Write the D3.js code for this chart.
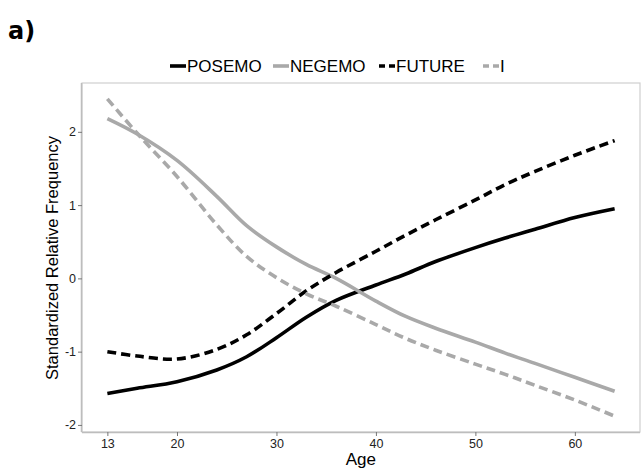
<!DOCTYPE html>
<html>
<head>
<meta charset="utf-8">
<script src="https://cdn.jsdelivr.net/npm/d3@7"></script>
<style>
  body { margin: 0; background: #fff; }
  svg text { font-family: "Liberation Sans", Arial, sans-serif; }
</style>
</head>
<body>
<div id="chart"></div>
<script>
var ages = [13, 16, 20, 24, 27, 30, 33, 36, 40, 43, 46, 50, 53, 56, 60, 64];

var posemo = [-1.57, -1.50, -1.41, -1.25, -1.07, -0.81, -0.53, -0.30, -0.09, 0.06, 0.23, 0.42, 0.55, 0.67, 0.83, 0.95];
var negemo = [2.18, 1.97, 1.61, 1.12, 0.72, 0.43, 0.19, 0.00, -0.31, -0.52, -0.68, -0.87, -1.02, -1.16, -1.35, -1.54];
var future = [-1.00, -1.06, -1.10, -0.97, -0.77, -0.48, -0.17, 0.08, 0.37, 0.59, 0.80, 1.07, 1.28, 1.46, 1.68, 1.88];
var iWord  = [2.45, 1.98, 1.39, 0.73, 0.30, 0.01, -0.21, -0.38, -0.63, -0.82, -0.98, -1.17, -1.31, -1.46, -1.66, -1.88];

var seriesNames = ["POSEMO", "NEGEMO", "FUTURE", "I"];
var xTicks = [13, 20, 30, 40, 50, 60];
var yTicks = [-2, -1, 0, 1, 2];

var series = [
    {name: "POSEMO", values: posemo, color: "#000", dash: null},
    {name: "NEGEMO", values: negemo, color: "#a9a9a9", dash: null},
    {name: "FUTURE", values: future, color: "#000", dash: "9,5"},
    {name: "I",      values: iWord,  color: "#a9a9a9", dash: "9,5"}
];

var W = 644, H = 470;
var margin = {top: 83, right: 4, bottom: 38, left: 82};
var width = W - margin.left - margin.right;
var height = H - margin.top - margin.bottom;

var svg = d3.select("#chart").append("svg")
    .attr("width", W)
    .attr("height", H);

// panel label
svg.append("text")
    .attr("x", 8)
    .attr("y", 39)
    .style("font-family", "'DejaVu Sans', sans-serif")
    .style("font-weight", "bold")
    .style("font-size", "24px")
    .text("a)");

var g = svg.append("g")
    .attr("transform", "translate(" + margin.left + "," + margin.top + ")");

// ggplot-style 5% expansion
var xMin = d3.min(ages), xMax = d3.max(ages);
var xPad = (xMax - xMin) * 0.05;
var x = d3.scaleLinear()
    .domain([xMin - xPad, xMax + xPad])
    .range([0, width]);

var allVals = [].concat(posemo, negemo, future, iWord);
var yMin = d3.min(allVals), yMax = d3.max(allVals);
var yPad = (yMax - yMin) * 0.05;
var y = d3.scaleLinear()
    .domain([yMin - yPad, yMax + yPad])
    .range([height, 0]);

// panel border
g.append("rect")
    .attr("width", width)
    .attr("height", height)
    .attr("fill", "none")
    .attr("stroke", "#cfcfcf")
    .attr("stroke-width", 1.2);

// axes
var xAxis = d3.axisBottom(x).tickValues(xTicks).tickSize(4).tickPadding(3);
var yAxis = d3.axisLeft(y).tickValues(yTicks).tickSize(4).tickPadding(2)
    .tickFormat(function (d) { return String(d); }); // plain hyphen minus

var gx = g.append("g")
    .attr("transform", "translate(0," + height + ")")
    .call(xAxis);
var gy = g.append("g").call(yAxis);

[gx, gy].forEach(function (ax) {
    ax.select(".domain").attr("stroke", "#bdbdbd").attr("stroke-width", 1.5);
    ax.selectAll(".tick line").attr("stroke", "#777");
    ax.selectAll(".tick text")
        .attr("fill", "#222")
        .style("font-size", "12.5px")
        .style("font-family", "'Liberation Sans', Arial, sans-serif");
});
gx.select(".domain").attr("d", "M0,0.5H" + width);
gy.select(".domain").attr("d", "M-0.5,0V" + height);

// axis titles
g.append("text")
    .attr("x", x(40) - 15)
    .attr("y", height + 33)
    .attr("text-anchor", "middle")
    .style("font-size", "17px")
    .text("Age");

g.append("text")
    .attr("transform", "rotate(-90)")
    .attr("x", -(258 - margin.top))
    .attr("y", -24)
    .attr("text-anchor", "middle")
    .style("font-size", "16.5px")
    .text("Standardized Relative Frequency");

// lines
var line = d3.line()
    .x(function (d) { return x(d[0]); })
    .y(function (d) { return y(d[1]); })
    .curve(d3.curveCatmullRom.alpha(0.5));

g.selectAll(".series")
    .data(series)
    .enter().append("path")
    .attr("class", "series")
    .attr("fill", "none")
    .attr("stroke", function (d) { return d.color; })
    .attr("stroke-width", 3.6)
    .attr("stroke-dasharray", function (d) { return d.dash; })
    .attr("d", function (d) { return line(ages.map(function (a, i) { return [a, d.values[i]]; })); });

// legend
var legendX = [170, 273, 379, 483];
var legend = svg.append("g").attr("transform", "translate(0,66)");

series.forEach(function (s, i) {
    var row = legend.append("g").attr("transform", "translate(" + legendX[i] + ",0)");
    row.append("line")
        .attr("x1", 0).attr("x2", 16)
        .attr("y1", 0).attr("y2", 0)
        .attr("stroke", s.color)
        .attr("stroke-width", 3.6)
        .attr("stroke-dasharray", s.dash ? "6,4" : null);
    row.append("text")
        .attr("x", 17)
        .attr("y", 6)
        .style("font-size", "17px")
        .text(seriesNames[i]);
});
</script>
</body>
</html>
